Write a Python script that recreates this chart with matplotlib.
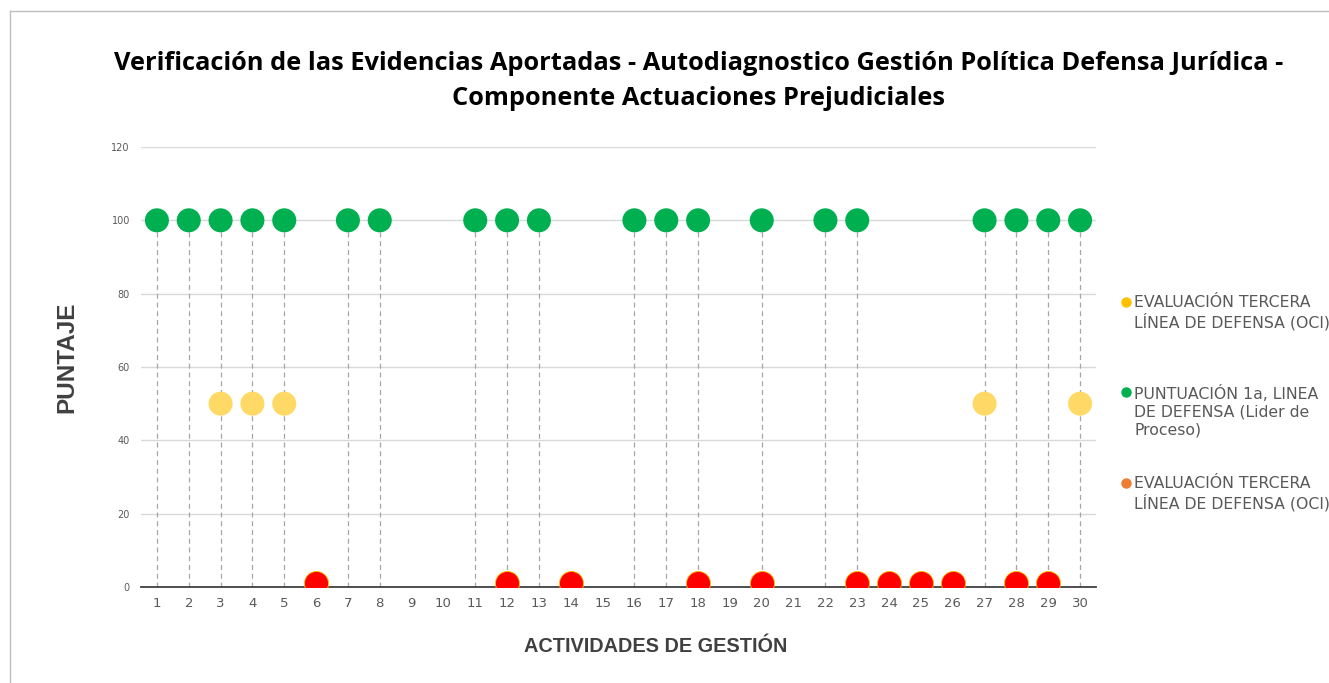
import matplotlib.pyplot as plt
from matplotlib.lines import Line2D
import numpy as np

actividades = list(range(1, 31))
nan = np.nan
# PUNTUACIÓN 1a, LINEA DE DEFENSA (Lider de Proceso)
primera_linea = [100, 100, 100, 100, 100, nan, 100, 100, nan, nan,
                 100, 100, 100, nan, nan, 100, 100, 100, nan, 100,
                 nan, 100, 100, nan, nan, nan, 100, 100, 100, 100]
# EVALUACIÓN TERCERA LÍNEA DE DEFENSA (OCI) - puntaje parcial
tercera_parcial = [nan, nan, 50, 50, 50, nan, nan, nan, nan, nan,
                   nan, nan, nan, nan, nan, nan, nan, nan, nan, nan,
                   nan, nan, nan, nan, nan, nan, 50, nan, nan, 50]
# EVALUACIÓN TERCERA LÍNEA DE DEFENSA (OCI) - sin puntaje
tercera_cero = [nan, nan, nan, nan, nan, 1, nan, nan, nan, nan,
                nan, 1, nan, 1, nan, nan, nan, 1, nan, 1,
                nan, nan, 1, 1, 1, 1, nan, 1, 1, nan]

leyenda = ['EVALUACIÓN TERCERA\nLÍNEA DE DEFENSA (OCI)',
           'PUNTUACIÓN 1a, LINEA\nDE DEFENSA (Lider de\nProceso)',
           'EVALUACIÓN TERCERA\nLÍNEA DE DEFENSA (OCI)']

GRIS = '#595959'
W, H = 1329, 683

fig = plt.figure(figsize=(W / 100, H / 100), dpi=100)
ax = fig.add_axes([141 / W, 1 - 587 / H, (1096 - 141) / W, (587 - 147) / H])

x = np.array(actividades)
y1 = np.array(primera_linea)
# líneas de caída
for xi, yi in zip(x, y1):
    if not np.isnan(yi):
        ax.plot([xi, xi], [0, yi], color='#A6A6A6', lw=0.9, ls=(0, (4, 3)), zorder=1)

ax.scatter(x, y1, s=300, color='#00B050', edgecolors='none', zorder=3)
ax.scatter(x, tercera_parcial, s=300, color='#FFD966', edgecolors='none', zorder=3)
ax.scatter(x, tercera_cero, s=300, color='#FF0000', edgecolors='#FFC000', linewidths=0.6, zorder=3)

ax.set_xlim(0.5, 30.5)
ax.set_ylim(0, 120)
ax.set_yticks(range(0, 121, 20))
ax.set_xticks(actividades)
ax.grid(axis='y', color='#D9D9D9', lw=1)
ax.set_axisbelow(True)
for s in ['top', 'right', 'left']:
    ax.spines[s].set_visible(False)
ax.spines['bottom'].set_color('#404040')
ax.spines['bottom'].set_linewidth(1.3)
ax.spines['bottom'].set_zorder(2)
ax.tick_params(axis='both', length=0, colors=GRIS)
ax.tick_params(axis='y', labelsize=7, pad=8)
ax.tick_params(axis='x', labelsize=9.5, pad=7)

ax.set_xlabel('ACTIVIDADES DE GESTIÓN', fontsize=14.3, fontweight='bold', color='#404040',
              family='Liberation Sans')
ax.xaxis.set_label_coords((656 - 141) / (1096 - 141), -(646 - 587) / (587 - 147))
ax.xaxis.label.set_va('center')
ax.set_ylabel('PUNTAJE', fontsize=17.5, fontweight='bold', color='#404040',
              family='Liberation Sans')
ax.yaxis.set_label_coords(-(141 - 67) / (1096 - 141), (587 - 357) / (587 - 147))
ax.yaxis.label.set_va('center')

fig.text(699 / W, 1 - 81 / H, 'Verificación de las Evidencias Aportadas - Autodiagnostico Gestión Política Defensa Jurídica -\nComponente Actuaciones Prejudiciales',
         ha='center', va='center', fontsize=18.3, fontweight='bold', family='Open Sans',
         linespacing=1.5)

# leyenda
colores_ley = ['#FFC000', '#00B050', '#ED7D31']
pos_ley = [302, 392, 483]
for c, t, py in zip(colores_ley, leyenda, pos_ley):
    fig.text(1134 / W, 1 - (py - 7) / H, t, ha='left', va='top', fontsize=11.3, color=GRIS,
             family='DejaVu Sans', linespacing=1.22)
    fig.add_artist(Line2D([1126 / W], [1 - py / H], marker='o', markersize=6.5,
                          color=c, transform=fig.transFigure))

# borde
fig.add_artist(Line2D([10 / W, 1], [1 - 11 / H, 1 - 11 / H], color='#BFBFBF', lw=1,
                      transform=fig.transFigure))
fig.add_artist(Line2D([10 / W, 10 / W], [0, 1 - 11 / H], color='#BFBFBF', lw=1,
                      transform=fig.transFigure))

fig.savefig('out.png', dpi=100)
